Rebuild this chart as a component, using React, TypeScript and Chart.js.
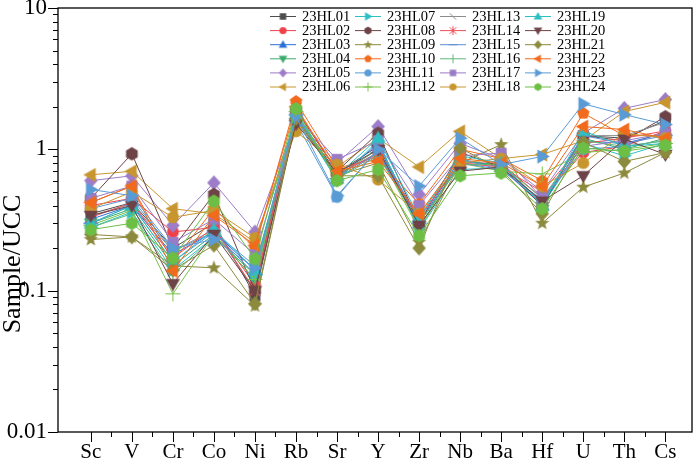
import React, { useEffect, useRef } from 'react';
import { Chart, registerables } from 'chart.js';
Chart.register(...registerables);

const ELEMENTS = ['Sc', 'V', 'Cr', 'Co', 'Ni', 'Rb', 'Sr', 'Y', 'Zr', 'Nb', 'Ba', 'Hf', 'U', 'Th', 'Cs'];
const SAMPLES = ['23HL01', '23HL02', '23HL03', '23HL04', '23HL05', '23HL06', '23HL07', '23HL08', '23HL09', '23HL10', '23HL11', '23HL12',
  '23HL13', '23HL14', '23HL15', '23HL16', '23HL17', '23HL18', '23HL19', '23HL20', '23HL21', '23HL22', '23HL23', '23HL24'];

const HL01 = [0.35, 0.42, 0.20, 0.30, 0.092, 1.75, 0.68, 1.05, 0.30, 0.78, 0.78, 0.42, 1.25, 1.20, 1.60];
const HL02 = [0.40, 0.45, 0.26, 0.28, 0.11, 1.80, 0.66, 0.95, 0.33, 0.80, 0.80, 0.45, 0.95, 1.05, 1.35];
const HL03 = [0.32, 0.40, 0.18, 0.26, 0.14, 1.70, 0.62, 1.10, 0.30, 0.85, 0.75, 0.40, 1.15, 1.10, 1.30];
const HL04 = [0.30, 0.38, 0.15, 0.25, 0.12, 1.65, 0.65, 1.00, 0.28, 0.82, 0.78, 0.42, 1.20, 1.00, 1.20];
const HL05 = [0.60, 0.65, 0.29, 0.58, 0.26, 1.60, 0.80, 1.45, 0.48, 1.10, 0.86, 0.50, 1.30, 1.95, 2.25];
const HL06 = [0.66, 0.70, 0.38, 0.35, 0.22, 1.60, 0.75, 1.20, 0.75, 1.34, 0.86, 0.92, 1.15, 1.85, 2.15];
const HL07 = [0.28, 0.36, 0.14, 0.24, 0.13, 1.75, 0.60, 1.15, 0.27, 0.72, 0.74, 0.40, 1.10, 0.90, 1.10];
const HL08 = [0.45, 0.93, 0.20, 0.48, 0.10, 1.90, 0.70, 1.30, 0.30, 0.95, 0.75, 0.40, 1.25, 1.15, 1.70];
const HL09 = [0.23, 0.24, 0.15, 0.145, 0.078, 1.60, 0.65, 0.80, 0.22, 0.80, 1.08, 0.30, 0.54, 0.68, 0.95];
const HL10 = [0.42, 0.55, 0.16, 0.38, 0.20, 2.18, 0.74, 0.85, 0.41, 1.00, 0.86, 0.60, 1.80, 1.25, 1.25];
const HL11 = [0.38, 0.45, 0.19, 0.26, 0.15, 1.55, 0.46, 1.00, 0.32, 0.85, 0.72, 0.44, 1.00, 1.05, 1.15];
const HL12 = [0.29, 0.37, 0.095, 0.25, 0.12, 1.85, 0.62, 0.95, 0.27, 0.80, 0.70, 0.67, 0.95, 1.00, 1.10];
const HL13 = [0.34, 0.41, 0.19, 0.27, 0.10, 1.70, 0.65, 0.95, 0.30, 0.78, 0.78, 0.42, 1.25, 1.25, 1.55];
const HL14 = [0.33, 0.42, 0.17, 0.28, 0.10, 1.95, 0.70, 0.90, 0.33, 0.80, 0.75, 0.50, 1.10, 1.20, 1.35];
const HL15 = [0.30, 0.40, 0.16, 0.26, 0.13, 1.75, 0.62, 0.95, 0.30, 0.80, 0.72, 0.42, 1.25, 1.10, 1.25];
const HL16 = [0.28, 0.35, 0.13, 0.24, 0.13, 1.80, 0.62, 0.90, 0.30, 0.78, 0.78, 0.45, 1.15, 1.05, 1.15];
const HL17 = [0.45, 0.55, 0.22, 0.32, 0.18, 1.70, 0.85, 1.15, 0.40, 0.90, 0.94, 0.45, 1.05, 1.15, 1.30];
const HL18 = [0.38, 0.50, 0.33, 0.37, 0.236, 1.34, 0.78, 0.61, 0.35, 0.80, 0.86, 0.55, 0.80, 1.30, 1.20];
const HL19 = [0.30, 0.40, 0.16, 0.27, 0.14, 1.80, 0.65, 1.20, 0.33, 0.90, 0.80, 0.40, 1.35, 1.05, 1.10];
const HL20 = [0.34, 0.40, 0.112, 0.25, 0.10, 1.52, 0.68, 1.00, 0.29, 0.70, 0.75, 0.43, 0.65, 1.18, 0.92];
const HL21 = [0.25, 0.24, 0.14, 0.21, 0.081, 1.65, 0.65, 0.65, 0.20, 1.02, 0.72, 0.35, 1.12, 0.82, 0.95];
const HL22 = [0.42, 0.55, 0.138, 0.34, 0.21, 2.00, 0.70, 0.82, 0.35, 0.86, 0.80, 0.55, 1.45, 1.38, 1.20];
const HL23 = [0.52, 0.47, 0.20, 0.23, 0.145, 1.70, 0.47, 1.00, 0.55, 1.20, 0.78, 0.89, 2.10, 1.76, 1.50];
const HL24 = [0.27, 0.30, 0.17, 0.43, 0.168, 1.94, 0.60, 0.72, 0.245, 0.65, 0.68, 0.38, 1.02, 0.97, 1.07];

const SERIES = [HL01, HL02, HL03, HL04, HL05, HL06, HL07, HL08, HL09, HL10, HL11, HL12,
  HL13, HL14, HL15, HL16, HL17, HL18, HL19, HL20, HL21, HL22, HL23, HL24];

const COLORS = ['#4D4D4D', '#F0404A', '#2A6FD6', '#3BAA6C', '#9D7CC9', '#C8962E', '#2EBFC4', '#6E4347', '#8C8A3C', '#F26A1B', '#5A9BD5', '#77C24A',
  '#8C8C8C', '#F0505A', '#5B8FD6', '#5DB87A', '#9A7BC6', '#C8962E', '#2EBFC4', '#6E4347', '#8C8A3C', '#F26A1B', '#5A9BD5', '#6DBE45'];
const SHAPES = ['square', 'circle', 'triUp', 'triDown', 'diamond', 'triLeft', 'triRight', 'hexagon', 'star', 'pentagon', 'circle', 'plus',
  'backslash', 'asterisk', 'dash', 'vbar', 'square', 'circle', 'triUp', 'triDown', 'diamond', 'triLeft', 'triRight', 'hexagon'];

const Y_MAJOR = [0.01, 0.1, 1, 10];
const Y_MAJOR_LABELS = ['0.01', '0.1', '1', '10'];
const Y_TITLE = 'Sample/UCC';

const FONT = "'Liberation Serif', 'Times New Roman', serif";

function makeMarker(shape: string, color: string, size: number): HTMLCanvasElement {
  const dim = Math.ceil(size) + 4;
  const c = document.createElement('canvas');
  c.width = dim;
  c.height = dim;
  const ctx = c.getContext('2d') as CanvasRenderingContext2D;
  const cx = dim / 2, cy = dim / 2, r = size / 2;
  ctx.fillStyle = color;
  ctx.strokeStyle = color;
  ctx.lineWidth = 1;
  const poly = (pts: number[][]) => {
    ctx.beginPath();
    pts.forEach(([x, y], i) => (i ? ctx.lineTo(x, y) : ctx.moveTo(x, y)));
    ctx.closePath();
    ctx.fill();
  };
  const reg = (n: number, rad: number, rot: number) => {
    const pts: number[][] = [];
    for (let i = 0; i < n; i++) {
      const a = rot + (i * 2 * Math.PI) / n;
      pts.push([cx + rad * Math.cos(a), cy + rad * Math.sin(a)]);
    }
    poly(pts);
  };
  const seg = (x1: number, y1: number, x2: number, y2: number) => {
    ctx.beginPath();
    ctx.moveTo(x1, y1);
    ctx.lineTo(x2, y2);
    ctx.stroke();
  };
  switch (shape) {
    case 'square': ctx.fillRect(cx - r * 0.72, cy - r * 0.72, r * 1.44, r * 1.44); break;
    case 'circle': ctx.beginPath(); ctx.arc(cx, cy, r * 0.8, 0, Math.PI * 2); ctx.fill(); break;
    case 'triUp': poly([[cx, cy - r], [cx + r * 0.95, cy + r * 0.65], [cx - r * 0.95, cy + r * 0.65]]); break;
    case 'triDown': poly([[cx, cy + r], [cx + r * 0.95, cy - r * 0.65], [cx - r * 0.95, cy - r * 0.65]]); break;
    case 'triLeft': poly([[cx - r, cy], [cx + r * 0.65, cy - r * 0.95], [cx + r * 0.65, cy + r * 0.95]]); break;
    case 'triRight': poly([[cx + r, cy], [cx - r * 0.65, cy - r * 0.95], [cx - r * 0.65, cy + r * 0.95]]); break;
    case 'diamond': poly([[cx, cy - r], [cx + r * 0.9, cy], [cx, cy + r], [cx - r * 0.9, cy]]); break;
    case 'hexagon': reg(6, r * 0.9, -Math.PI / 2); break;
    case 'pentagon': reg(5, r * 0.88, -Math.PI / 2); break;
    case 'star': {
      const pts: number[][] = [];
      for (let i = 0; i < 10; i++) {
        const a = -Math.PI / 2 + (i * Math.PI) / 5;
        const rr = i % 2 === 0 ? r : r * 0.42;
        pts.push([cx + rr * Math.cos(a), cy + rr * Math.sin(a)]);
      }
      poly(pts);
      break;
    }
    case 'plus': seg(cx - r, cy, cx + r, cy); seg(cx, cy - r, cx, cy + r); break;
    case 'vbar': seg(cx, cy - r, cx, cy + r); break;
    case 'dash': seg(cx - r, cy, cx + r, cy); break;
    case 'backslash': seg(cx - r * 0.7, cy - r * 0.7, cx + r * 0.7, cy + r * 0.7); break;
    case 'asterisk':
      seg(cx - r * 0.75, cy - r * 0.75, cx + r * 0.75, cy + r * 0.75);
      seg(cx - r * 0.75, cy + r * 0.75, cx + r * 0.75, cy - r * 0.75);
      seg(cx, cy - r, cx, cy + r);
      break;
    default: break;
  }
  return c;
}

function approx(a: number, b: number) {
  return Math.abs(a - b) / b < 1e-6;
}

const decorPlugin = {
  id: 'decor',
  afterDraw(chart: any) {
    const { ctx, chartArea: a, scales } = chart;
    const xs = scales.x;
    const ys = scales.y;
    ctx.save();
    ctx.strokeStyle = '#000';
    ctx.lineWidth = 1.3;
    ctx.strokeRect(a.left, a.top, a.right - a.left, a.bottom - a.top);
    ctx.lineWidth = 1;
    const line = (x1: number, y1: number, x2: number, y2: number) => {
      ctx.beginPath();
      ctx.moveTo(x1, y1);
      ctx.lineTo(x2, y2);
      ctx.stroke();
    };
    ELEMENTS.forEach((_, i) => {
      const px = Math.round(xs.getPixelForValue(i)) + 0.5;
      line(px, a.bottom, px, a.bottom + 10);
      if (i < ELEMENTS.length - 1) {
        const mx = Math.round(xs.getPixelForValue(i + 0.5)) + 0.5;
        line(mx, a.bottom, mx, a.bottom + 5);
      }
    });
    Y_MAJOR.forEach((v, di) => {
      const py = Math.round(ys.getPixelForValue(v)) + 0.5;
      line(a.left - 10, py, a.left, py);
      if (di < Y_MAJOR.length - 1) {
        for (let k = 2; k <= 9; k++) {
          const my = Math.round(ys.getPixelForValue(v * k)) + 0.5;
          line(a.left - 5, my, a.left, my);
        }
      }
    });
    // y axis title
    ctx.save();
    ctx.translate(13, 264);
    ctx.rotate(-Math.PI / 2);
    ctx.font = `26px ${FONT}`;
    ctx.fillStyle = '#000';
    ctx.textAlign = 'center';
    ctx.textBaseline = 'middle';
    ctx.fillText(Y_TITLE, 0, 0);
    ctx.restore();
    // legend
    ctx.font = `14.5px ${FONT}`;
    ctx.textBaseline = 'middle';
    ctx.textAlign = 'left';
    SAMPLES.forEach((name, i) => {
      const col = Math.floor(i / 6);
      const row = i % 6;
      const mx = 283 + 85 * col;
      const my = 16 + 14.1 * row;
      ctx.strokeStyle = COLORS[i];
      ctx.lineWidth = 1;
      line(mx - 13, my + 0.5, mx + 13, my + 0.5);
      const mk = makeMarker(SHAPES[i], COLORS[i], 9);
      ctx.drawImage(mk, mx - mk.width / 2, my - mk.height / 2 + 0.5);
      ctx.fillStyle = '#000';
      ctx.fillText(name, mx + 19, my + 1);
    });
    ctx.restore();
  },
};

export default function App() {
  const ref = useRef<HTMLCanvasElement | null>(null);
  useEffect(() => {
    if (!ref.current) return;
    const datasets = SERIES.map((vals, i) => ({
      label: SAMPLES[i],
      data: vals.map((v, j) => ({ x: j, y: v })),
      borderColor: COLORS[i],
      backgroundColor: COLORS[i],
      borderWidth: 1,
      pointStyle: makeMarker(SHAPES[i], COLORS[i], 15),
      pointRadius: 7,
      tension: 0,
      fill: false,
      order: SERIES.length - i,
    }));
    const chart = new Chart(ref.current, {
      type: 'line',
      data: { datasets },
      plugins: [decorPlugin],
      options: {
        animation: false,
        responsive: false,
        maintainAspectRatio: false,
        layout: { padding: { top: 6, right: 3, left: 0, bottom: 0 } },
        plugins: { legend: { display: false }, tooltip: { enabled: false } },
        scales: {
          x: {
            type: 'linear',
            min: -0.8,
            max: 14.65,
            grid: { display: false, drawTicks: false },
            border: { display: false },
            afterBuildTicks: (s: any) => { s.ticks = ELEMENTS.map((_, i) => ({ value: i })); },
            afterFit: (s: any) => {
              s.height = 32;
              s.paddingLeft = 0;
              s.paddingRight = 0;
            },
            ticks: {
              autoSkip: false,
              maxRotation: 0,
              padding: 8,
              color: '#000',
              font: { family: FONT, size: 21 },
              callback: (v: any) => ELEMENTS[Math.round(Number(v))] ?? '',
            },
          },
          y: {
            type: 'logarithmic',
            min: 0.01,
            max: 10,
            grid: { display: false, drawTicks: false },
            border: { display: false },
            afterBuildTicks: (s: any) => {
              const t: any[] = [];
              Y_MAJOR.forEach((v, di) => {
                t.push({ value: v });
                if (di < Y_MAJOR.length - 1) for (let k = 2; k <= 9; k++) t.push({ value: v * k });
              });
              s.ticks = t;
            },
            afterFit: (s: any) => {
              s.width = 58;
              s.paddingTop = 0;
              s.paddingBottom = 0;
            },
            ticks: {
              autoSkip: false,
              padding: 11,
              color: '#000',
              font: { family: FONT, size: 23 },
              callback: (v: any) => {
                const idx = Y_MAJOR.findIndex((m) => approx(Number(v), m));
                return idx >= 0 ? Y_MAJOR_LABELS[idx] : '';
              },
            },
          },
        },
      },
    });
    return () => chart.destroy();
  }, []);
  return (
    <div style={{ position: 'fixed', left: 0, top: 0, width: 700, height: 464, background: '#fff' }}>
      <canvas ref={ref} width={700} height={464} style={{ width: 700, height: 464 }} />
    </div>
  );
}
